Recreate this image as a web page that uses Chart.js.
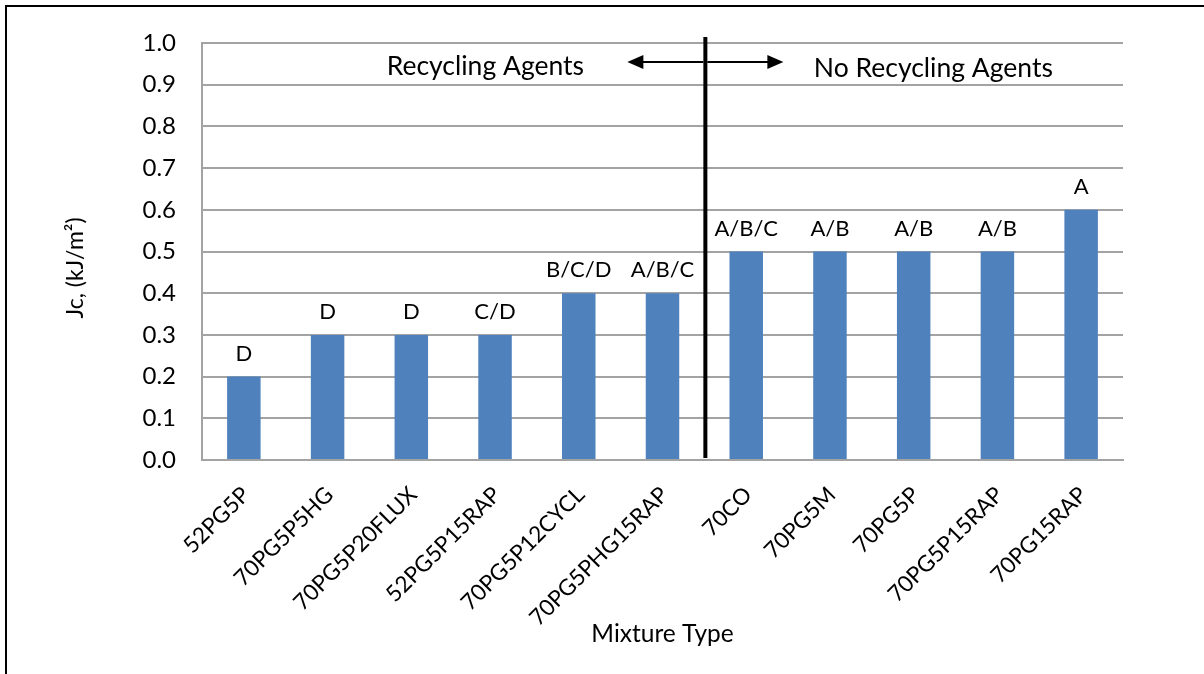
<!DOCTYPE html>
<html>
<head>
<meta charset="utf-8">
<script src="https://cdn.jsdelivr.net/npm/chart.js@4.4.1/dist/chart.umd.min.js"></script>
<style>
  html, body { margin: 0; padding: 0; background: #fff; }
  #wrap { width: 1204px; height: 674px; }
</style>
</head>
<body>
<div id="wrap"><canvas id="grafico" width="1204" height="674"></canvas></div>
<script>
// data
const mixtures = ['52PG5P', '70PG5P5HG', '70PG5P20FLUX', '52PG5P15RAP', '70PG5P12CYCL',
    '70PG5PHG15RAP', '70CO', '70PG5M', '70PG5P', '70PG5P15RAP', '70PG15RAP'];
const jcValues = [0.2, 0.3, 0.3, 0.3, 0.4, 0.4, 0.5, 0.5, 0.5, 0.5, 0.6];
const groupLetters = ['D', 'D', 'D', 'C/D', 'B/C/D', 'A/B/C', 'A/B/C', 'A/B', 'A/B', 'A/B', 'A'];
const yTicks = [0.0, 0.1, 0.2, 0.3, 0.4, 0.5, 0.6, 0.7, 0.8, 0.9, 1.0];
const lastRecyclingIndex = 5;

const fonte = 'Lato, "Open Sans", sans-serif';
const cinza = '#a3a3a3';

// frame, rotated category names, y title, letters, divider and arrows
const extras = {
    id: 'extras',
    beforeDraw(chart) {
        const ctx = chart.ctx;
        ctx.save();
        ctx.fillStyle = '#fff';
        ctx.fillRect(0, 0, chart.width, chart.height);
        ctx.strokeStyle = '#000';
        ctx.lineWidth = 2;
        ctx.beginPath();
        ctx.moveTo(6, chart.height);
        ctx.lineTo(6, 6);
        ctx.lineTo(chart.width, 6);
        ctx.stroke();
        ctx.restore();
    },
    afterDraw(chart) {
        const ctx = chart.ctx;
        const area = chart.chartArea;
        const x = chart.scales.x;

        ctx.save();
        ctx.fillStyle = '#000';
        ctx.font = '22.5px ' + fonte;
        ctx.textAlign = 'right';
        ctx.textBaseline = 'middle';
        mixtures.forEach(function (nome, i) {
            ctx.save();
            ctx.translate(x.getPixelForValue(i) + 2, area.bottom + 31);
            ctx.rotate(-Math.PI / 4);
            ctx.fillText(nome, 0, 0);
            ctx.restore();
        });

        ctx.font = '23px ' + fonte;
        ctx.textAlign = 'center';
        ctx.translate(76, 268);
        ctx.rotate(-Math.PI / 2);
        ctx.fillText('Jc, (kJ/m²)', 0, 0);
        ctx.restore();
    },
    afterDatasetsDraw(chart) {
        const ctx = chart.ctx;
        const area = chart.chartArea;
        const x = chart.scales.x;
        const meta = chart.getDatasetMeta(0);

        ctx.save();
        ctx.fillStyle = '#000';
        ctx.font = '22px ' + fonte;
        ctx.textAlign = 'center';
        ctx.textBaseline = 'bottom';
        meta.data.forEach(function (bar, i) {
            ctx.fillText(groupLetters[i], bar.x, bar.y - 12);
        });

        const lx = (x.getPixelForValue(lastRecyclingIndex) + x.getPixelForValue(lastRecyclingIndex + 1)) / 2 + 1;
        ctx.strokeStyle = '#000';
        ctx.lineWidth = 4;
        ctx.beginPath();
        ctx.moveTo(lx, area.top - 6);
        ctx.lineTo(lx, area.bottom - 2);
        ctx.stroke();

        const ay = area.top + 19;
        ctx.lineWidth = 2;
        ctx.beginPath();
        ctx.moveTo(lx - 2, ay);
        ctx.lineTo(lx - 64, ay);
        ctx.moveTo(lx + 2, ay);
        ctx.lineTo(lx + 64, ay);
        ctx.stroke();
        ctx.beginPath();
        ctx.moveTo(lx - 78, ay);
        ctx.lineTo(lx - 62, ay - 7);
        ctx.lineTo(lx - 62, ay + 7);
        ctx.closePath();
        ctx.moveTo(lx + 78, ay);
        ctx.lineTo(lx + 62, ay - 7);
        ctx.lineTo(lx + 62, ay + 7);
        ctx.closePath();
        ctx.fill();

        ctx.font = '26.5px ' + fonte;
        ctx.textBaseline = 'middle';
        ctx.fillText('Recycling Agents', lx - 220, area.top + 23);
        ctx.fillText('No Recycling Agents', lx + 228, area.top + 25);
        ctx.restore();
    }
};

const ctx = document.getElementById('grafico').getContext('2d');
const graficoBarras = new Chart(ctx, {
    type: 'bar',
    data: {
        labels: mixtures,
        datasets: [{
            data: jcValues,
            backgroundColor: '#4f81bd',
            borderWidth: 0,
            barPercentage: 0.4,
            categoryPercentage: 1.0
        }]
    },
    options: {
        responsive: false,
        animation: false,
        layout: { padding: { left: 60, top: 43, right: 81, bottom: 25 } },
        plugins: {
            legend: { display: false },
            tooltip: { enabled: false }
        },
        scales: {
            x: {
                grid: { display: false, drawTicks: false },
                border: { color: cinza, width: 2 },
                ticks: { display: false },
                title: {
                    display: true,
                    text: 'Mixture Type',
                    color: '#000',
                    font: { family: fonte, size: 24.5 },
                    padding: 0
                },
                afterFit(scale) { scale.height = 189; }
            },
            y: {
                min: 0,
                max: 1,
                afterBuildTicks(scale) {
                    scale.ticks = yTicks.map(function (v) { return { value: v }; });
                },
                grid: { color: cinza, lineWidth: 2, drawTicks: false },
                border: { color: cinza, width: 2 },
                ticks: {
                    color: '#000',
                    font: { family: fonte, size: 24 },
                    padding: 26,
                    callback: function (v) { return Number(v).toFixed(1); }
                },
                afterFit(scale) { scale.width = 142; }
            }
        }
    },
    plugins: [extras]
});
</script>
</body>
</html>
